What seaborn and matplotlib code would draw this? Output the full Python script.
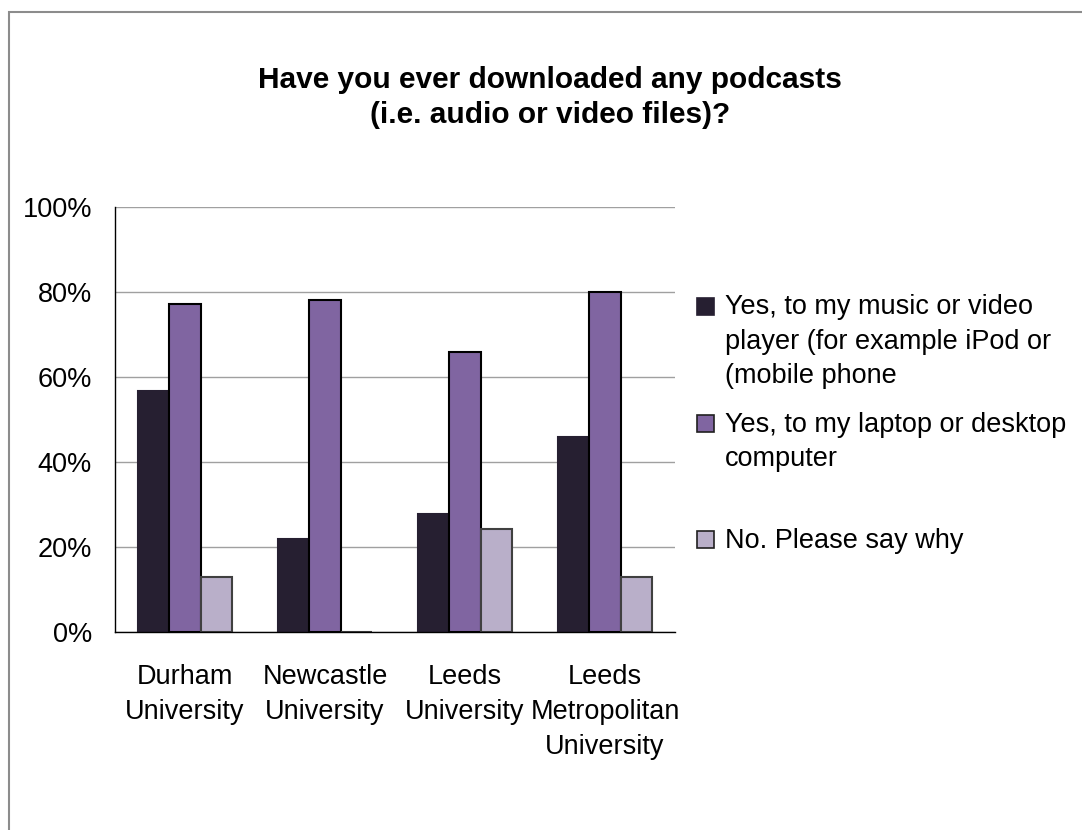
import numpy as np
import pandas as pd
import seaborn as sns
import matplotlib.pyplot as plt
from matplotlib.patches import Rectangle

universities = ['Durham\nUniversity', 'Newcastle\nUniversity', 'Leeds\nUniversity',
                'Leeds\nMetropolitan\nUniversity']
music_player = [56.8, 21.8, 27.7, 46.0]
laptop_desktop = [77.2, 78.1, 65.9, 80.0]
no_why = [13.0, 0.0, 24.3, 13.0]
series = ['Yes, to my music or video\nplayer (for example iPod or\n(mobile phone',
          'Yes, to my laptop or desktop\ncomputer',
          'No. Please say why']
colors = ['#261F31', '#8065A1', '#B9AFC9']
edges = ['#261F31', '#000000', '#404040']

df = pd.DataFrame({'University': universities * 3,
                   'Answer': [series[0]] * 4 + [series[1]] * 4 + [series[2]] * 4,
                   'Percent': music_player + laptop_desktop + no_why})

sns.set_style('white')
plt.rcParams['font.family'] = ['Liberation Sans', 'DejaVu Sans']
plt.rcParams['text.color'] = 'black'
plt.rcParams['xtick.labelcolor'] = 'black'
plt.rcParams['ytick.labelcolor'] = 'black'

fig = plt.figure(figsize=(10.82, 8.30), dpi=100)
ax = fig.add_axes([115 / 1082, 1 - 632 / 830, 560 / 1082, 425 / 830])

sns.barplot(data=df, x='University', y='Percent', hue='Answer', palette=colors,
            width=0.676, gap=0, ax=ax, legend=False, saturation=1)
for cont, ec in zip(ax.containers, edges):
    for bar in cont:
        bar.set_edgecolor(ec)
        bar.set_linewidth(1.5)

ax.set_ylim(0, 100)
ax.set_xlim(-0.5, 3.5)
ax.set_yticks(np.arange(0, 101, 20))
ax.set_yticklabels([f'{v}%' for v in range(0, 101, 20)], fontsize=19.5)
ax.set_xticks(range(4))
ax.set_xticklabels(universities, fontsize=19.5, linespacing=1.45)
ax.set_xticks(np.arange(-0.5, 3.6, 1), minor=True)
ax.tick_params(axis='x', which='major', length=0, pad=23)
ax.tick_params(axis='x', which='minor', length=8, width=1, color='#808080', direction='out')
ax.tick_params(axis='y', length=10, width=1, color='#808080', direction='out', pad=6.5)
ax.set_xlabel('')
ax.set_ylabel('')
ax.yaxis.grid(True, color='#A0A0A0', linewidth=1)
ax.set_axisbelow(True)
for s in ['top', 'right']:
    ax.spines[s].set_visible(False)
for s in ['left', 'bottom']:
    ax.spines[s].set_color('black')
    ax.spines[s].set_linewidth(1)

# baseline of a multi-line text is its last line here
fig.text(550 / 1082, 1 - 123 / 830,
         'Have you ever downloaded any podcasts\n(i.e. audio or video files)?',
         ha='center', va='baseline', fontsize=21.5, fontweight='bold', linespacing=1.32)

# legend, placed by hand to follow the original layout
first_base = [315, 432, 548]
last_base = [383, 466, 548]
for lab, fc, ec, yb, yl in zip(series, colors, edges, first_base, last_base):
    fig.add_artist(Rectangle((697 / 1082, 1 - yb / 830), 17 / 1082, 17 / 830,
                             transform=fig.transFigure, facecolor=fc,
                             edgecolor='#202020' if fc != colors[0] else fc, linewidth=1.2))
    fig.text(725 / 1082, 1 - yl / 830, lab, ha='left', va='baseline',
             fontsize=19.5, linespacing=1.42)

# outer chart frame
fig.add_artist(Rectangle((9 / 1082, -0.1), 1.2, 1.1 - 12 / 830, transform=fig.transFigure,
                         fill=False, edgecolor='#8C8C8C', linewidth=1.5))

fig.savefig('out.png', dpi=100)
